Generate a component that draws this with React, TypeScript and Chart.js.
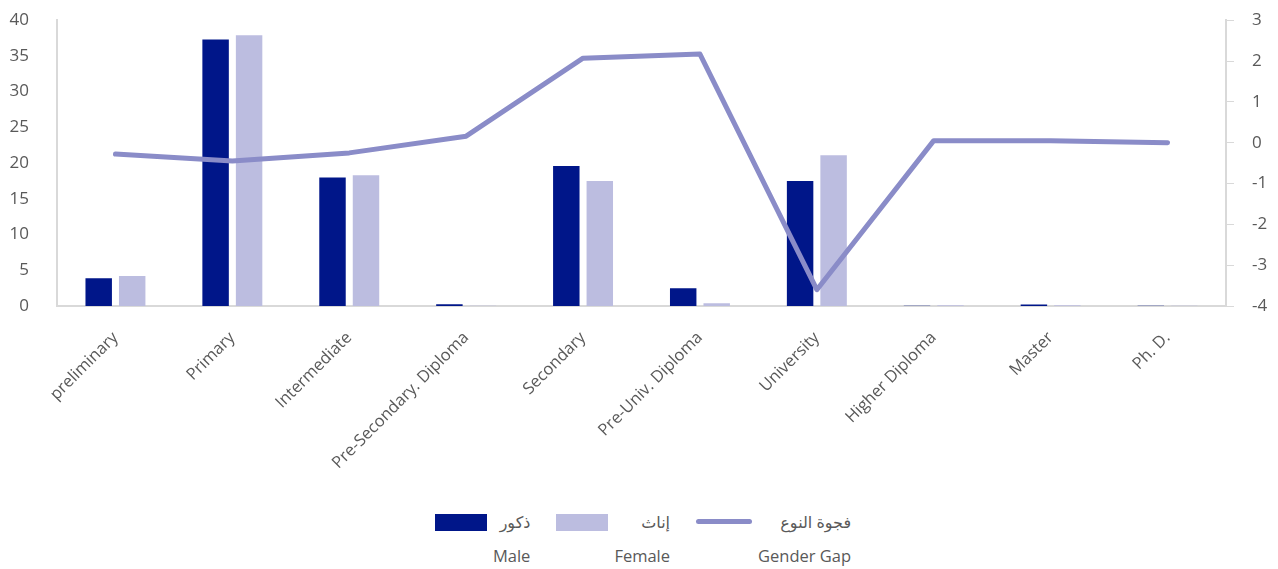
import React, { useEffect, useRef } from "react";
import { Chart, registerables } from "chart.js";

Chart.register(...registerables);

const categories = [
  "preliminary",
  "Primary",
  "Intermediate",
  "Pre-Secondary. Diploma",
  "Secondary",
  "Pre-Univ. Diploma",
  "University",
  "Higher Diploma",
  "Master",
  "Ph. D.",
];
const maleValues = [3.9, 37.3, 18.0, 0.25, 19.6, 2.5, 17.5, 0.02, 0.2, 0.02];
const femaleValues = [4.2, 37.9, 18.3, 0.05, 17.5, 0.4, 21.1, 0.1, 0.1, 0.05];
const genderGap = [-0.28, -0.45, -0.25, 0.16, 2.07, 2.17, -3.6, 0.05, 0.05, 0.0];

const leftTicks = [0, 5, 10, 15, 20, 25, 30, 35, 40];
const rightTicks = [-4, -3, -2, -1, 0, 1, 2, 3];

const MALE_COLOR = "#001689";
const FEMALE_COLOR = "#bcbde0";
const GAP_COLOR = "#8a8cc8";
const AXIS_COLOR = "#d9d9d9";
const TEXT_COLOR = "#595959";
const FONT = "'Open Sans', 'DejaVu Sans', sans-serif";

const legendItems = [
  { ar: "ذكور", en: "Male", kind: "box", color: MALE_COLOR },
  { ar: "إناث", en: "Female", kind: "box", color: FEMALE_COLOR },
  { ar: "فجوة النوع", en: "Gender Gap", kind: "line", color: GAP_COLOR },
];

export default function App() {
  const ref = useRef<HTMLCanvasElement>(null);

  useEffect(() => {
    if (!ref.current) return;
    const chart = new Chart(ref.current, {
      data: {
        labels: categories,
        datasets: [
          {
            type: "line",
            label: "Gender Gap",
            data: genderGap,
            yAxisID: "y1",
            borderColor: GAP_COLOR,
            backgroundColor: GAP_COLOR,
            borderWidth: 5,
            borderCapStyle: "round",
            borderJoinStyle: "round",
            pointRadius: 0,
            tension: 0,
            order: 0,
          },
          {
            type: "bar",
            label: "Male",
            data: maleValues,
            yAxisID: "y",
            backgroundColor: MALE_COLOR,
            categoryPercentage: 0.573,
            barPercentage: 0.79,
            order: 1,
          },
          {
            type: "bar",
            label: "Female",
            data: femaleValues,
            yAxisID: "y",
            backgroundColor: FEMALE_COLOR,
            categoryPercentage: 0.573,
            barPercentage: 0.79,
            order: 1,
          },
        ],
      } as any,
      options: {
        animation: false,
        responsive: false,
        maintainAspectRatio: false,
        layout: { padding: { top: 0, left: 0, right: 0, bottom: 0 } },
        plugins: {
          legend: { display: false },
          tooltip: { enabled: false },
        },
        scales: {
          x: {
            grid: { display: false, drawTicks: false },
            border: { display: true, color: AXIS_COLOR, width: 2 },
            ticks: {
              color: TEXT_COLOR,
              font: { family: FONT, size: 16.5 },
              minRotation: 45,
              maxRotation: 45,
              padding: 22,
              autoSkip: false,
            },
            afterFit: (axis: any) => {
              axis.height = 194;
            },
          },
          y: {
            position: "left",
            min: 0,
            max: 40,
            afterBuildTicks: (axis: any) => {
              axis.ticks = leftTicks.map((v) => ({ value: v }));
            },
            grid: { display: false, drawTicks: false },
            border: { display: true, color: AXIS_COLOR, width: 2 },
            ticks: {
              color: TEXT_COLOR,
              font: { family: FONT, size: 17 },
              padding: 28,
            },
            afterFit: (axis: any) => {
              axis.width = 49;
            },
          },
          y1: {
            position: "right",
            min: -4,
            max: 3,
            afterBuildTicks: (axis: any) => {
              axis.ticks = rightTicks.map((v) => ({ value: v }));
            },
            grid: {
              display: true,
              drawOnChartArea: false,
              drawTicks: true,
              tickLength: 8,
              color: AXIS_COLOR,
            },
            border: { display: true, color: AXIS_COLOR, width: 2 },
            ticks: {
              color: TEXT_COLOR,
              font: { family: FONT, size: 17 },
              padding: 18,
            },
            afterFit: (axis: any) => {
              axis.width = 44;
            },
          },
        },
      } as any,
    });
    return () => chart.destroy();
  }, []);

  return (
    <div style={{ width: 1262, fontFamily: FONT }}>
      <canvas
        ref={ref}
        width={1262}
        height={518}
        style={{ display: "block", width: 1262, height: 518, marginTop: -26 }}
      />
      <div
        style={{
          display: "flex",
          justifyContent: "center",
          marginTop: 10,
          gap: 26,
          paddingLeft: 8,
        }}
      >
        {legendItems.map((it) => (
          <div key={it.en} style={{ display: "flex", alignItems: "flex-start" }}>
            {it.kind === "box" ? (
              <div style={{ width: 52, height: 17, marginTop: 4, background: it.color }} />
            ) : (
              <div
                style={{
                  width: 56,
                  height: 5,
                  marginTop: 9,
                  borderRadius: 3,
                  background: it.color,
                }}
              />
            )}
            <div
              style={{
                marginLeft: 6,
                textAlign: "right",
                color: TEXT_COLOR,
                fontSize: 16,
                lineHeight: "24px",
              }}
            >
              <div dir="rtl" style={{ textAlign: "right" }}>{it.ar}</div>
              <div style={{ marginTop: 10, fontSize: 16.5 }}>{it.en}</div>
            </div>
          </div>
        ))}
      </div>
    </div>
  );
}
